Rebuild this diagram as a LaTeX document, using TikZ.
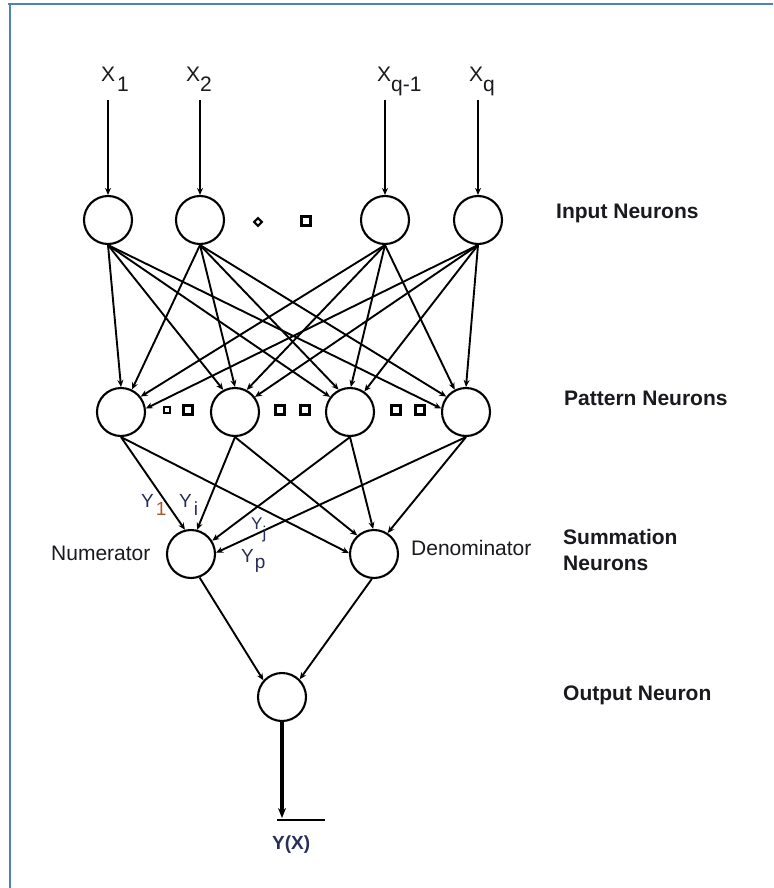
\documentclass[tikz,border=0pt]{standalone}
\usepackage{fontspec}
\setmainfont{Liberation Sans}
\usetikzlibrary{arrows.meta}
\definecolor{frameblue}{RGB}{79,129,189}
\definecolor{ynavy}{RGB}{40,46,86}
\definecolor{subbrown}{RGB}{170,90,40}
\definecolor{txtgray}{RGB}{25,25,30}
\begin{document}
\begin{tikzpicture}[x=1pt,y=-1pt,
  neuron/.style={circle,draw,line width=2.1pt,minimum size=48pt,inner sep=0pt},
  conn/.style={line width=1.9pt,-{Stealth[length=7pt,width=6pt]}},
  outconn/.style={line width=3.2pt,-{Stealth[length=10pt,width=8pt]}},
  layerlbl/.style={font=\fontsize{21}{24}\selectfont\bfseries,anchor=base west,text=txtgray,inner sep=0pt},
  sidelbl/.style={font=\fontsize{21}{24}\selectfont,anchor=base west,text=txtgray,inner sep=0pt},
  xlbl/.style={font=\fontsize{21}{24}\selectfont,anchor=base west,inner sep=0pt,text=txtgray},
  ylbl/.style={font=\fontsize{19}{22}\selectfont,anchor=base west,inner sep=0pt,text=ynavy},
  dotsq/.style={draw,line width=3pt,minimum size=8.5pt,inner sep=0pt,fill=white},
  dotsm/.style={draw,line width=2.2pt,minimum size=5.5pt,inner sep=0pt,fill=white}]
\useasboundingbox (0,0) rectangle (773,888);
\fill[white] (0,0) rectangle (773,888);
% frame
\draw[frameblue,line width=2.6pt] (8,4) -- (773,4);
\draw[frameblue,line width=2.6pt] (10,3) -- (10,888);

% input labels
\node[xlbl] (x1) at (101,82) {X\kern2pt\raisebox{-10pt}{1}};
\node[xlbl] (x2) at (186,82) {X\raisebox{-10pt}{2}};
\node[xlbl] (x3) at (377,82) {X\raisebox{-10pt}{q-1}};
\node[xlbl] (x4) at (469,82) {X\raisebox{-10pt}{q}};
\coordinate (a1) at (108,100);
\coordinate (a2) at (200,100);
\coordinate (a3) at (385,100);
\coordinate (a4) at (478,100);

% neurons
\node[neuron] (i1) at (108,220) {};
\node[neuron] (i2) at (200,220) {};
\node[neuron] (i3) at (385,220) {};
\node[neuron] (i4) at (478,220) {};
\node[neuron] (p1) at (121,412) {};
\node[neuron] (p2) at (235,412) {};
\node[neuron] (p3) at (350,412) {};
\node[neuron] (p4) at (466,412) {};
\node[neuron] (num) at (191,554) {};
\node[neuron] (den) at (374,554) {};
\node[neuron] (out) at (282,697) {};

% dots
\node[dotsm,rotate=45] (d0) at (258,222) {};
\node[dotsq] (d1) at (306,221) {};
\node[dotsm] (d2) at (167,410) {};
\node[dotsq] (d3) at (188,410) {};
\node[dotsq] (d4) at (280,410) {};
\node[dotsq] (d5) at (305,410) {};
\node[dotsq] (d6) at (396,410) {};
\node[dotsq] (d7) at (420,410) {};

% input arrows
\draw[conn] (a1) -- (i1.north);
\draw[conn] (a2) -- (i2.north);
\draw[conn] (a3) -- (i3.north);
\draw[conn] (a4) -- (i4.north);

% input -> pattern
\draw[conn] (i1.south) -- (p1.90);
\draw[conn] (i2.south) -- (p1.64);
\draw[conn] (i3.south) -- (p1.38);
\draw[conn] (i4.south) -- (p1.8);
\draw[conn] (i1.south) -- (p2.118);
\draw[conn] (i2.south) -- (p2.90);
\draw[conn] (i3.south) -- (p2.62);
\draw[conn] (i4.south) -- (p2.37);
\draw[conn] (i1.south) -- (p3.143);
\draw[conn] (i2.south) -- (p3.117);
\draw[conn] (i3.south) -- (p3.88);
\draw[conn] (i4.south) -- (p3.55);
\draw[conn] (i1.south) -- (p4.172);
\draw[conn] (i2.south) -- (p4.142);
\draw[conn] (i3.south) -- (p4.117);
\draw[conn] (i4.south) -- (p4.90);

% pattern -> summation
\draw[conn] (p1.south) -- (num.104);
\draw[conn] (p2.south) -- (num.76);
\draw[conn] (p3.south) -- (num.32);
\draw[conn] (p4.south) -- (num.3);
\draw[conn] (p1.south) -- (den.178);
\draw[conn] (p2.south) -- (den.132);
\draw[conn] (p3.south) -- (den.92);
\draw[conn] (p4.south) -- (den.57);

% summation -> output
\draw[conn] (num.-70) -- (out.138);
\draw[conn] (den.-95) -- (out.45);

% output
\coordinate (yend) at (282,818);
\coordinate (b1) at (277,820);
\coordinate (b2) at (325,820);
\draw[outconn] (out.south) -- (yend);
\draw[line width=2pt] (b1) -- (b2);
\node[font=\fontsize{19}{22}\selectfont\bfseries,text=ynavy,anchor=base west,inner sep=0pt] (yx) at (272,849) {Y(X)};

% Y labels
\node[ylbl] (y1) at (141,507) {Y\kern2pt\raisebox{-8pt}{\textcolor{subbrown}{1}}};
\node[ylbl] (yi) at (179,507) {Y\kern2pt\raisebox{-8pt}{i}};
\node[ylbl,font=\fontsize{17}{20}\selectfont] (yj) at (251,529) {Y\raisebox{-9pt}{j}};
\node[ylbl] (yp) at (241,562) {Y\kern1pt\raisebox{-6pt}{p}};

% side labels
\node[sidelbl] (numl) at (51,560) {Numerator};
\node[sidelbl] (denl) at (411,555) {Denominator};

% layer labels
\node[layerlbl] (l1) at (556,218) {Input Neurons};
\node[layerlbl] (l2) at (564,405) {Pattern Neurons};
\node[layerlbl] (l3) at (563,544) {Summation};
\node[layerlbl] (l4) at (563,570) {Neurons};
\node[layerlbl] (l5) at (563,700) {Output Neuron};
\end{tikzpicture}
\end{document}
